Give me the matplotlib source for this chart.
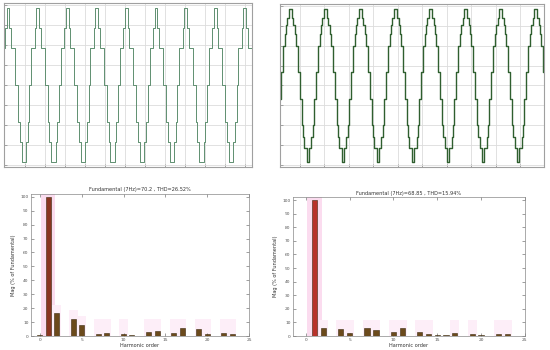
import numpy as np
import matplotlib.pyplot as plt
from matplotlib.ticker import MultipleLocator

# one period of each stepped waveform (spike centre at t=0)
wave_a_levels = [3.85, 2.85, 1.85, 0, -1.85, -2.85, -3.85, -2.85, -1.85, 0, 1.85, 2.85, 3.85]
wave_a_starts = [0, 0.045, 0.10, 0.237, 0.34, 0.395, 0.46, 0.61, 0.665, 0.72, 0.78, 0.90, 0.955]
wave_a_periods = 8.38
wave_a_phase = 0.135

wave_b_levels = [3.85, 3.4, 3.05, 2.58, 2.0, 0.67, -0.67, -2.0, -2.58, -3.15, -3.87,
                 -3.15, -2.58, -2.0, -0.67, 0.67, 2.0, 2.58, 3.05, 3.4, 3.85]
wave_b_starts = [0, 0.048, 0.086, 0.124, 0.17, 0.22, 0.27, 0.32, 0.37, 0.40, 0.46,
                 0.54, 0.60, 0.63, 0.68, 0.73, 0.78, 0.83, 0.876, 0.914, 0.952]
wave_b_periods = 7.54
wave_b_phase = 0.30

# harmonic spectra
harmonics = list(range(25))
mag_a = [0.4, 100, 16.3, 0.2, 12.5, 8.2, 0.2, 1.4, 1.9, 0.2, 1.6, 0.75, 0.2,
         3.2, 3.5, 0.2, 2.0, 6.0, 0.2, 5.0, 1.6, 0.2, 2.2, 1.7, 0.1]
mag_b = [0.3, 100, 5.8, 0.2, 5.4, 2.1, 0.2, 5.6, 4.2, 0.2, 3.2, 5.8, 0.2,
         2.8, 1.6, 0.7, 0.5, 1.9, 0.1, 1.6, 0.7, 0.1, 1.2, 1.4, 0.1]
title_a = 'Fundamental (7Hz)=70.2 , THD=26.52%'
title_b = 'Fundamental (7Hz)=68.85 , THD=15.94%'

fig = plt.figure(figsize=(5.5, 3.5), dpi=100)


def draw_wave(ax, levels, starts, periods, phase, color, lw, xstep, xfirst):
    n = int(np.ceil(periods)) + 2
    t = np.concatenate([k + np.array(starts) for k in range(-1, n)]) + phase
    y = np.tile(levels, n + 1)
    ax.step(t, y, where='post', color=color, lw=lw)
    ax.set_xlim(0, periods)
    ax.set_ylim(-4.1, 4.1)
    ax.set_xticks(np.arange(xfirst, periods, xstep))
    ax.yaxis.set_major_locator(MultipleLocator(1))
    ax.grid(True, color='#dcdcdc', lw=0.6)
    ax.tick_params(direction='in', length=2, width=0.5, color='#888888',
                   labelbottom=False, labelleft=False)
    for s in ax.spines.values():
        s.set_color('#a0a0a0')
        s.set_linewidth(0.8)


def draw_spectrum(ax, mags, title, red, xleft):
    for h, v in zip(harmonics, mags):
        if v > 1:
            w = 1.7 if v >= 50 else 1.0
            top = 103 if v >= 50 else max(12, v + 6)
            col = '#fbdcef' if v >= 50 else '#fdeef8'
            ax.add_patch(plt.Rectangle((h - w / 2, 0), w, top, color=col, zorder=0, lw=0))
    colors = [red if h == 1 else '#6b4a1c' for h in harmonics]
    ax.bar(harmonics, mags, width=0.6, color=colors, edgecolor='#3b2a10', lw=0.4, zorder=2)
    ax.set_xlim(xleft, 25)
    ax.set_ylim(0, 102)
    ax.set_xticks([0, 5, 10, 15, 20, 25])
    ax.set_yticks(range(0, 101, 10))
    ax.tick_params(direction='in', length=2, width=0.4, labelsize=3.2, pad=1.5,
                   top=True, right=True, colors='#555555')
    for s in ax.spines.values():
        s.set_color('#888888')
        s.set_linewidth(0.5)
    ax.set_title(title, fontsize=3.6, pad=2, color='#333333')
    ax.set_xlabel('Harmonic order', fontsize=3.6, labelpad=1, color='#333333')
    ax.set_ylabel('Mag (% of Fundamental)', fontsize=3.6, labelpad=3, color='#333333')


ax1 = fig.add_axes([0.0073, 0.523, 0.451, 0.469])
draw_wave(ax1, wave_a_levels, wave_a_starts, wave_a_periods, wave_a_phase,
          '#5f8f70', 0.7, 0.676, 0.71)
ax2 = fig.add_axes([0.509, 0.523, 0.480, 0.466])
draw_wave(ax2, wave_b_levels, wave_b_starts, wave_b_periods, wave_b_phase,
          '#2f5f2f', 1.0, 0.70, 0.57)

ax3 = fig.add_axes([0.0558, 0.04, 0.397, 0.4057])
draw_spectrum(ax3, mag_a, title_a, '#8a3520', -1.1)
ax4 = fig.add_axes([0.532, 0.04, 0.4224, 0.396])
draw_spectrum(ax4, mag_b, title_b, '#b8322a', -1.5)

fig.savefig('out.png', dpi=100)
